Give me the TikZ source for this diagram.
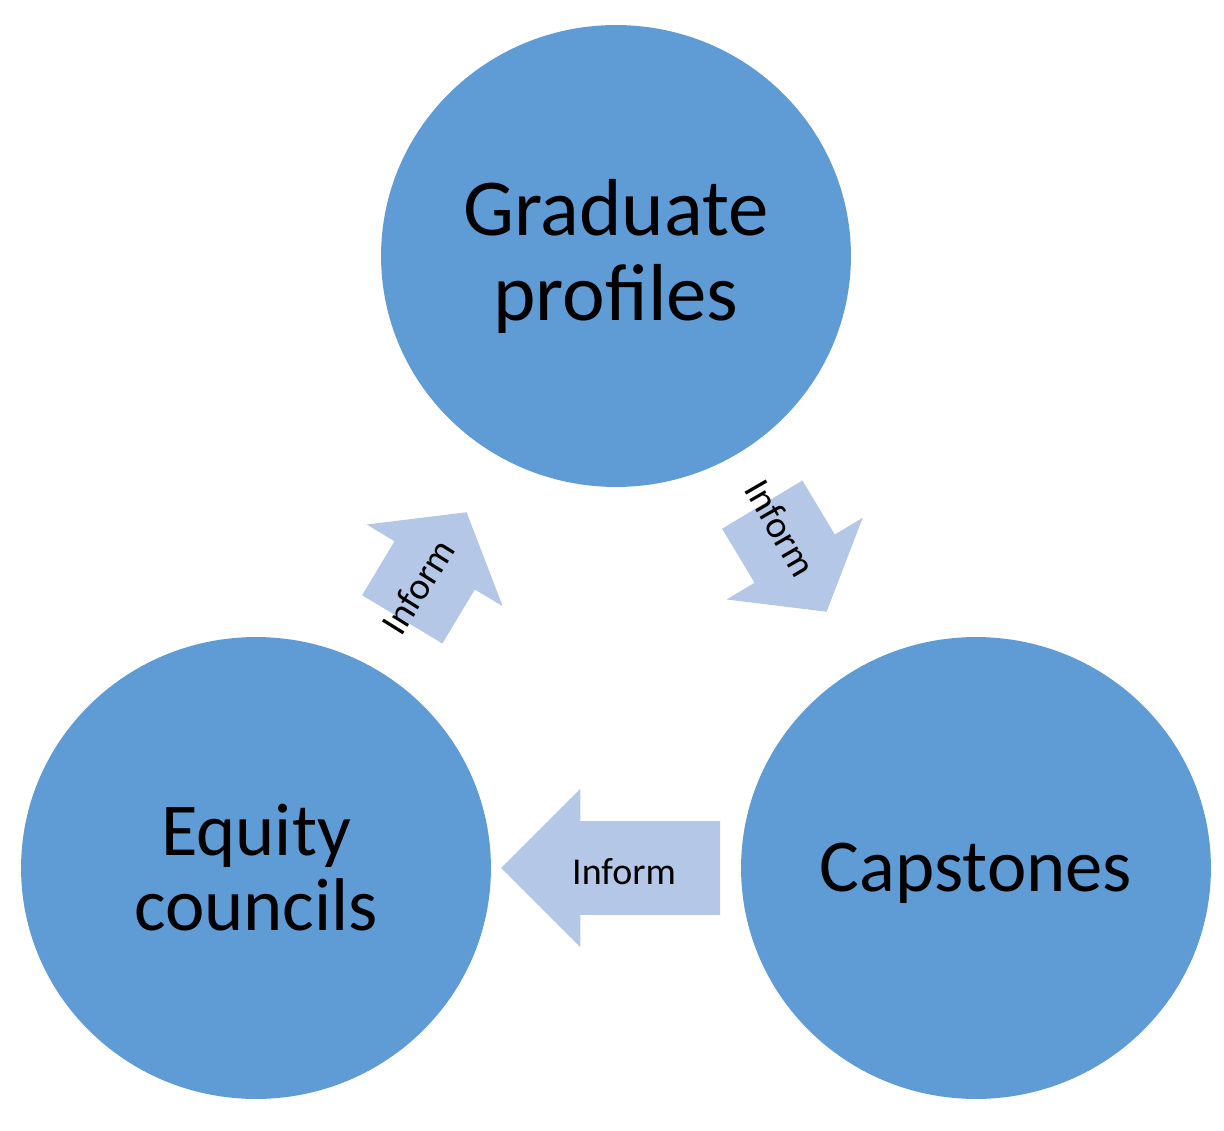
\documentclass[tikz,border=0pt]{standalone}
\usepackage{fontspec}
\setmainfont{Carlito}
\usepackage{xcolor}
\usepackage{tikz}
\usetikzlibrary{positioning, shapes.geometric, shapes.arrows}

\definecolor{topicblue}{RGB}{95,155,213}
\definecolor{flowblue}{RGB}{180,199,231}

\begin{document}
\begin{tikzpicture}[
            x=0.02cm, y=-0.02cm,
            % --- Styles for the nodes ---
            topic/.style={
                ellipse, fill=topicblue, inner sep=0pt,
                minimum width=9.4cm, minimum height=9.24cm,
                align=center, font=\fontsize{42.5}{42.7}\selectfont
            },
            flow/.style={
                single arrow, fill=flowblue, inner xsep=0pt, inner ysep=0.93cm,
                single arrow head extend=0.65cm, single arrow head indent=0pt
            },
            longflow/.style={flow, minimum height=4.38cm,
                single arrow tip angle=90},
            shortflow/.style={flow, minimum height=2.5cm,
                single arrow tip angle=104},
            flow_label/.style={font=\fontsize{21.6}{24}\selectfont, inner sep=0pt}
        ]
        \useasboundingbox (0,0) rectangle (1224,1131);

        % --- The three circles ---
        \node[topic, font=\fontsize{46}{48.4}\selectfont] (profiles) at (616,256) {Graduate\\profiles};
        \node[topic] (equity) at (256,868) {Equity\\councils};
        \node[topic, text height=35pt, text depth=8.7pt] (capstones) at (976,868) {Capstones};

        % --- Block arrows between the circles ---
        \node[shortflow, rotate=59] (upflow) at (425,581.5) {};
        \node[shortflow, rotate=-59] (downflow) at (785,542.5) {};
        \node[longflow, shape border rotate=180] (backflow) at (634,868) {};

        % --- Arrow labels ---
        \node[flow_label, rotate=58] (uptext) at (418,587) {Inform};
        \node[flow_label, rotate=-60] (downtext) at (781,528) {Inform};
        \node[flow_label] (backtext) at (624,872) {Inform};

        \end{tikzpicture}
\end{document}
